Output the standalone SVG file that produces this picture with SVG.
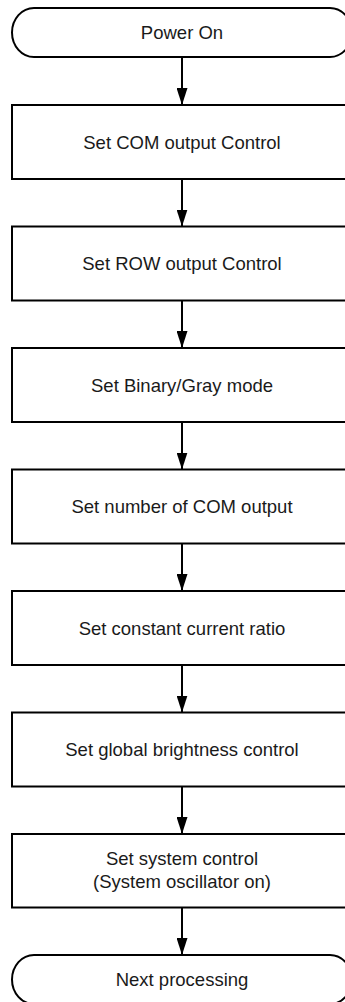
<svg xmlns="http://www.w3.org/2000/svg" width="345" height="1002" viewBox="0 0 345 1002">
<style>
.s{fill:#fff;stroke:#000;stroke-width:2}
.t{font-family:"Liberation Sans",Arial,sans-serif;font-size:18.5px;fill:#1a1a1a;text-anchor:middle}
.c{stroke:#000;stroke-width:2;fill:none}
</style>
<defs>
<marker id="ah" markerWidth="17" markerHeight="11" refX="17" refY="5.5" orient="auto" markerUnits="userSpaceOnUse" viewBox="0 0 17 11">
<path d="M0,0 L17,5.5 L0,11 Z" fill="#000"/>
</marker>
</defs>
<rect width="345" height="1002" fill="#fff"/>
<g id="connectors">
<line class="c" x1="182" y1="57" x2="182" y2="105" marker-end="url(#ah)"/>
<line class="c" x1="182" y1="179" x2="182" y2="226.5" marker-end="url(#ah)"/>
<line class="c" x1="182" y1="300.5" x2="182" y2="348" marker-end="url(#ah)"/>
<line class="c" x1="182" y1="422" x2="182" y2="469.5" marker-end="url(#ah)"/>
<line class="c" x1="182" y1="543.5" x2="182" y2="591" marker-end="url(#ah)"/>
<line class="c" x1="182" y1="665" x2="182" y2="712.5" marker-end="url(#ah)"/>
<line class="c" x1="182" y1="786.5" x2="182" y2="834" marker-end="url(#ah)"/>
<line class="c" x1="182" y1="907.5" x2="182" y2="955" marker-end="url(#ah)"/>
</g>
<g id="power-on">
<rect class="s" x="12" y="8" width="340" height="49" rx="22" ry="24.5"/>
<text class="t" x="182" y="39">Power On</text>
</g>
<g id="set-com">
<rect class="s" x="12" y="105" width="340" height="74"/>
<text class="t" x="182" y="148.5">Set COM output Control</text>
</g>
<g id="set-row">
<rect class="s" x="12" y="226.5" width="340" height="74"/>
<text class="t" x="182" y="270">Set ROW output Control</text>
</g>
<g id="set-binary">
<rect class="s" x="12" y="348" width="340" height="74"/>
<text class="t" x="182" y="391.5">Set Binary/Gray mode</text>
</g>
<g id="set-number">
<rect class="s" x="12" y="469.5" width="340" height="74"/>
<text class="t" x="182" y="513">Set number of COM output</text>
</g>
<g id="set-current">
<rect class="s" x="12" y="591" width="340" height="74"/>
<text class="t" x="182" y="634.5">Set constant current ratio</text>
</g>
<g id="set-brightness">
<rect class="s" x="12" y="712.5" width="340" height="74"/>
<text class="t" x="182" y="756">Set global brightness control</text>
</g>
<g id="set-system">
<rect class="s" x="12" y="834" width="340" height="73.5"/>
<text class="t" x="182" y="865">Set system control</text>
<text class="t" x="182" y="887.5">(System oscillator on)</text>
</g>
<g id="next">
<rect class="s" x="12" y="955" width="340" height="49" rx="22" ry="24.5"/>
<text class="t" x="182" y="986">Next processing</text>
</g>
</svg>
